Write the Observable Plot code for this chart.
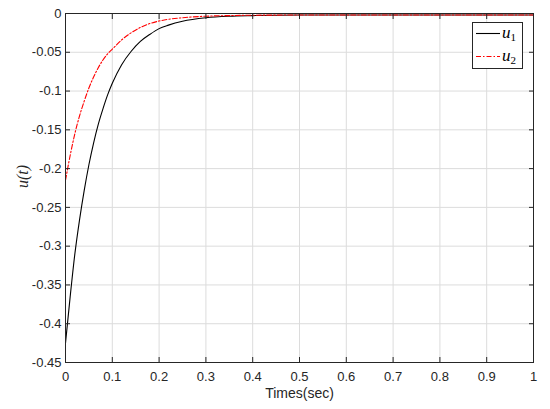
<!DOCTYPE html>
<html><head><meta charset="utf-8">
<script src="https://cdn.jsdelivr.net/npm/d3@7"></script>
<script src="https://cdn.jsdelivr.net/npm/@observablehq/plot@0.6"></script>
<style>
body{margin:0;background:#fff;}
#wrap{position:relative;width:550px;height:409px;}
#legend{position:absolute;left:0;top:0;}
</style></head><body><div id="wrap"></div>
<script>
// Series u1 (black, solid)
const time1 = [0, 0.01, 0.02, 0.03, 0.04, 0.05, 0.06, 0.07, 0.08, 0.09, 0.10, 0.12, 0.14, 0.16, 0.18, 0.20, 0.22, 0.25, 0.30, 0.35, 0.40, 0.45, 0.50, 0.60, 0.80, 1.0];
const u1 = [-0.425, -0.365, -0.31, -0.266, -0.228, -0.195, -0.167, -0.143, -0.123, -0.105, -0.090, -0.066, -0.049, -0.036, -0.027, -0.0195, -0.015, -0.010, -0.0055, -0.0035, -0.0027, -0.0022, -0.002, -0.002, -0.002, -0.002];
// Series u2 (red, dash-dot)
const time2 = [0, 0.01, 0.02, 0.03, 0.04, 0.05, 0.06, 0.07, 0.08, 0.09, 0.10, 0.12, 0.14, 0.16, 0.18, 0.20, 0.22, 0.25, 0.30, 0.35, 0.40, 0.50, 0.60, 0.80, 1.0];
const u2 = [-0.215, -0.183, -0.155, -0.132, -0.113, -0.096, -0.082, -0.070, -0.060, -0.052, -0.046, -0.034, -0.025, -0.018, -0.013, -0.0097, -0.0075, -0.0055, -0.0035, -0.0027, -0.0022, -0.002, -0.002, -0.002, -0.002];
const xTicks = [0, 0.1, 0.2, 0.3, 0.4, 0.5, 0.6, 0.7, 0.8, 0.9, 1];
const yTicks = [-0.45, -0.4, -0.35, -0.3, -0.25, -0.2, -0.15, -0.1, -0.05, 0];
const xLabel = "Times(sec)";
const yLabel = "u(t)";
const seriesNames = ["1", "2"];
const seriesColors = ["#000000", "#ff0000"];

const d1 = time1.map((t, i) => ({t, v: u1[i]}));
const d2 = time2.map((t, i) => ({t, v: u2[i]}));
const fmt = d => d === 0 ? "0" : String(+d.toFixed(2));
const axisColor = "#262626";
const font = "'Liberation Sans', Arial, sans-serif";

const chart = Plot.plot({
  width: 550, height: 409,
  marginLeft: 65, marginRight: 17, marginTop: 13, marginBottom: 47,
  style: {fontFamily: font, background: "#fff"},
  x: {domain: [0, 1], label: null},
  y: {domain: [-0.45, 0], label: null},
  marks: [
    Plot.gridX(xTicks, {stroke: "#dcdcdc", strokeOpacity: 1}),
    Plot.gridY(yTicks, {stroke: "#dcdcdc", strokeOpacity: 1}),
    Plot.line(d1, {x: "t", y: "v", stroke: seriesColors[0], strokeWidth: 1.1, curve: "monotone-x"}),
    Plot.line(d2, {x: "t", y: "v", stroke: seriesColors[1], strokeWidth: 1.1, strokeDasharray: "5,2,1.5,2", curve: "monotone-x"}),
    Plot.axisX(xTicks, {anchor: "bottom", tickSize: 0, tickPadding: 9, tickFormat: fmt, fontSize: 13, fill: axisColor, label: null}),
    Plot.axisY(yTicks, {anchor: "left", tickSize: 0, tickPadding: 4, tickFormat: fmt, fontSize: 13, fill: axisColor, label: null}),
    Plot.axisX(xTicks, {anchor: "bottom", tickSize: -5, tickFormat: () => "", stroke: axisColor, label: null}),
    Plot.axisX(xTicks, {anchor: "top", tickSize: -5, tickFormat: () => "", stroke: axisColor, label: null}),
    Plot.axisY(yTicks, {anchor: "left", tickSize: -5, tickFormat: () => "", stroke: axisColor, label: null}),
    Plot.axisY(yTicks, {anchor: "right", tickSize: -5, tickFormat: () => "", stroke: axisColor, label: null}),
    Plot.frame({stroke: axisColor, strokeWidth: 1}),
    Plot.text([xLabel], {frameAnchor: "bottom", dy: 31, lineAnchor: "middle", text: d => d, fontSize: 14, fill: axisColor}),
    Plot.text([yLabel], {frameAnchor: "left", dx: -43, rotate: -90, text: d => d, fontSize: 16, fontStyle: "italic", fontFamily: "'Liberation Serif', 'DejaVu Serif', serif", fill: axisColor})
  ]
});
const wrap = document.getElementById("wrap");
wrap.appendChild(chart);

// Legend inside the plot (upper right)
const lg = d3.select(wrap).append("svg").attr("id", "legend").attr("width", 550).attr("height", 409);
lg.append("rect").attr("x", 472.5).attr("y", 22.5).attr("width", 50).attr("height", 46)
  .attr("fill", "#fff").attr("stroke", axisColor).attr("stroke-width", 1);
seriesNames.forEach((n, i) => {
  const y = 33.5 + i * 23;
  lg.append("line").attr("x1", 476).attr("x2", 500).attr("y1", y).attr("y2", y)
    .attr("stroke", seriesColors[i]).attr("stroke-width", 1.1)
    .attr("stroke-dasharray", i === 1 ? "5,2,1.5,2" : null);
  const t = lg.append("text").attr("x", 502).attr("y", y + 4)
    .attr("font-family", "'Liberation Serif', 'DejaVu Serif', serif").attr("fill", "#000");
  t.append("tspan").attr("font-style", "italic").attr("font-size", 17).text("u");
  t.append("tspan").attr("font-size", 11).attr("dy", 3).text(n);
});
</script>
</body></html>
